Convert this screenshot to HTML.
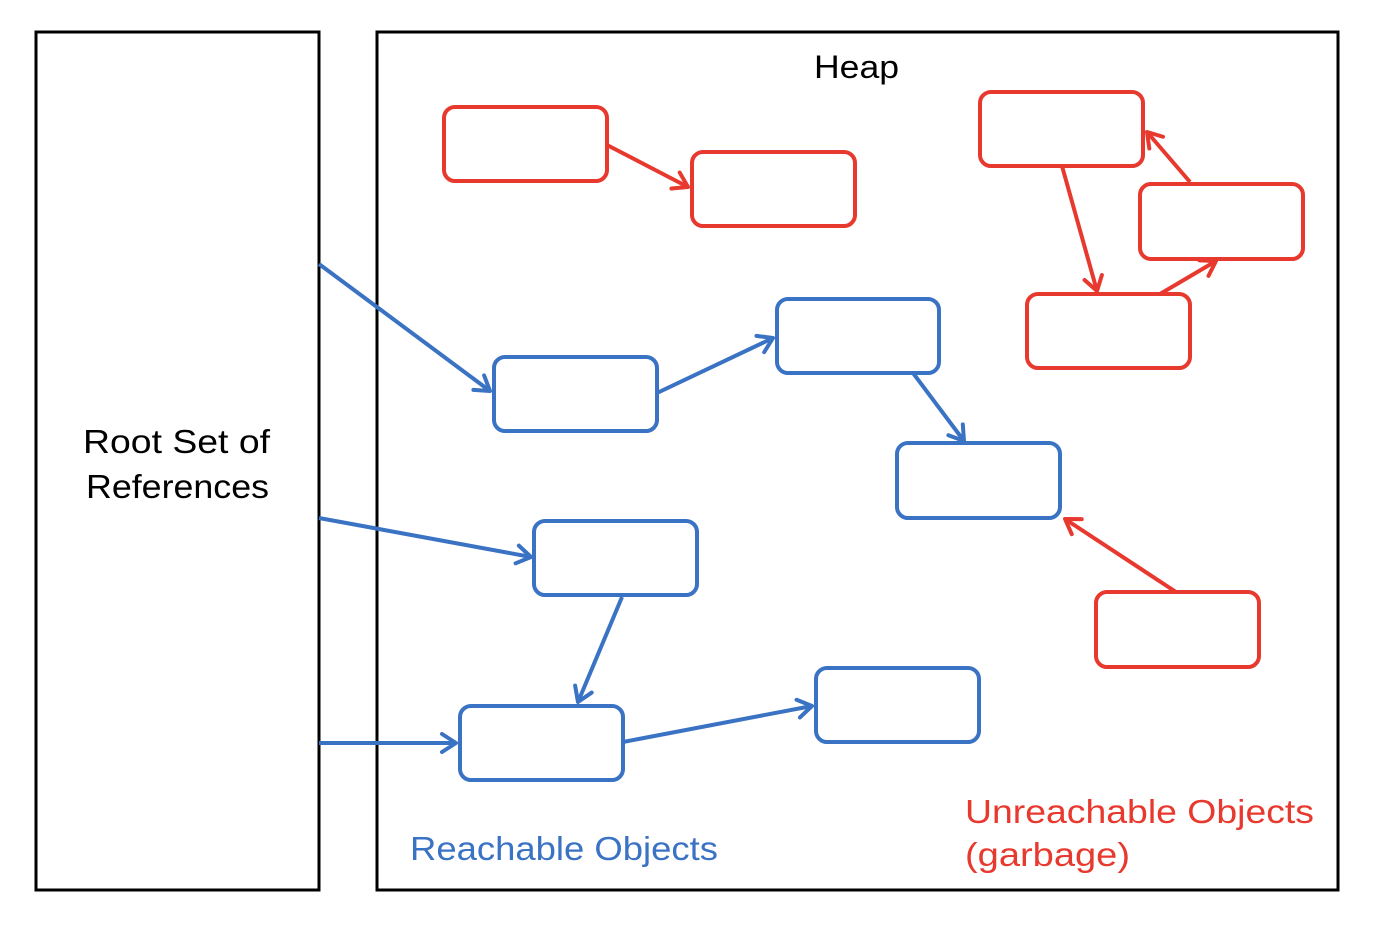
<!DOCTYPE html>
<html><head><style>
html,body{margin:0;padding:0;background:#fff;}
svg{display:block;}
text{font-family:"Liberation Sans",sans-serif;}
</style></head><body>
<svg width="1394" height="932" viewBox="0 0 1394 932" xmlns="http://www.w3.org/2000/svg">
<defs>
<marker id="ab" markerWidth="10" markerHeight="10" refX="8" refY="5" orient="auto" markerUnits="userSpaceOnUse" viewBox="0 0 10 10" style="overflow:visible">
<polyline points="-6,-4 8,5 -6,14" fill="none" stroke="#3a72c4" stroke-width="4" stroke-linecap="round" stroke-linejoin="round"/>
</marker>
<marker id="ar" markerWidth="10" markerHeight="10" refX="8" refY="5" orient="auto" markerUnits="userSpaceOnUse" viewBox="0 0 10 10" style="overflow:visible">
<polyline points="-6,-4 8,5 -6,14" fill="none" stroke="#e8392f" stroke-width="4" stroke-linecap="round" stroke-linejoin="round"/>
</marker>
</defs>
<rect x="36" y="32" width="283" height="858" fill="none" stroke="#000" stroke-width="3"/>
<rect x="377" y="32" width="961" height="858" fill="none" stroke="#000" stroke-width="3"/>
<g fill="#fff" stroke="#e8392f" stroke-width="4">
<rect x="444" y="107" width="163" height="74" rx="11"/>
<rect x="692" y="152" width="163" height="74" rx="11"/>
<rect x="980" y="92" width="163" height="74" rx="11"/>
<rect x="1140" y="184" width="163" height="75" rx="11"/>
<rect x="1027" y="294" width="163" height="74" rx="11"/>
<rect x="1096" y="592" width="163" height="75" rx="11"/>
</g>
<g fill="#fff" stroke="#3a72c4" stroke-width="4">
<rect x="494" y="357" width="163" height="74" rx="11"/>
<rect x="777" y="299" width="162" height="74" rx="11"/>
<rect x="897" y="443" width="163" height="75" rx="11"/>
<rect x="534" y="521" width="163" height="74" rx="11"/>
<rect x="460" y="706" width="163" height="74" rx="11"/>
<rect x="816" y="668" width="163" height="74" rx="11"/>
</g>
<g stroke="#3a72c4" stroke-width="4" fill="none" marker-end="url(#ab)">
<line x1="319" y1="264" x2="490" y2="391"/>
<line x1="657" y1="393" x2="773" y2="338"/>
<line x1="913" y1="373" x2="964" y2="441"/>
<line x1="319" y1="518" x2="531" y2="557"/>
<line x1="622" y1="597" x2="578" y2="702"/>
<line x1="319" y1="743" x2="456" y2="743"/>
<line x1="623" y1="742" x2="812" y2="706"/>
</g>
<g stroke="#e8392f" stroke-width="4" fill="none" marker-end="url(#ar)">
<line x1="607" y1="145" x2="688" y2="187"/>
<line x1="1062" y1="166" x2="1097" y2="291"/>
<line x1="1190" y1="182" x2="1147" y2="132"/>
<line x1="1160" y1="294" x2="1216" y2="261"/>
<line x1="1176" y1="592" x2="1065" y2="519"/>
</g>
<text x="814" y="78" font-size="32" textLength="85" lengthAdjust="spacingAndGlyphs" fill="#000">Heap</text>
<text x="83" y="453" font-size="33" textLength="187" lengthAdjust="spacingAndGlyphs" fill="#000">Root Set of</text>
<text x="86" y="498" font-size="33" textLength="183" lengthAdjust="spacingAndGlyphs" fill="#000">References</text>
<text x="410" y="860" font-size="33" textLength="308" lengthAdjust="spacingAndGlyphs" fill="#3a72c4">Reachable Objects</text>
<text x="965" y="823" font-size="33" textLength="349" lengthAdjust="spacingAndGlyphs" fill="#e8392f">Unreachable Objects</text>
<text x="965" y="866" font-size="33" textLength="165" lengthAdjust="spacingAndGlyphs" fill="#e8392f">(garbage)</text>
</svg>
</body></html>
